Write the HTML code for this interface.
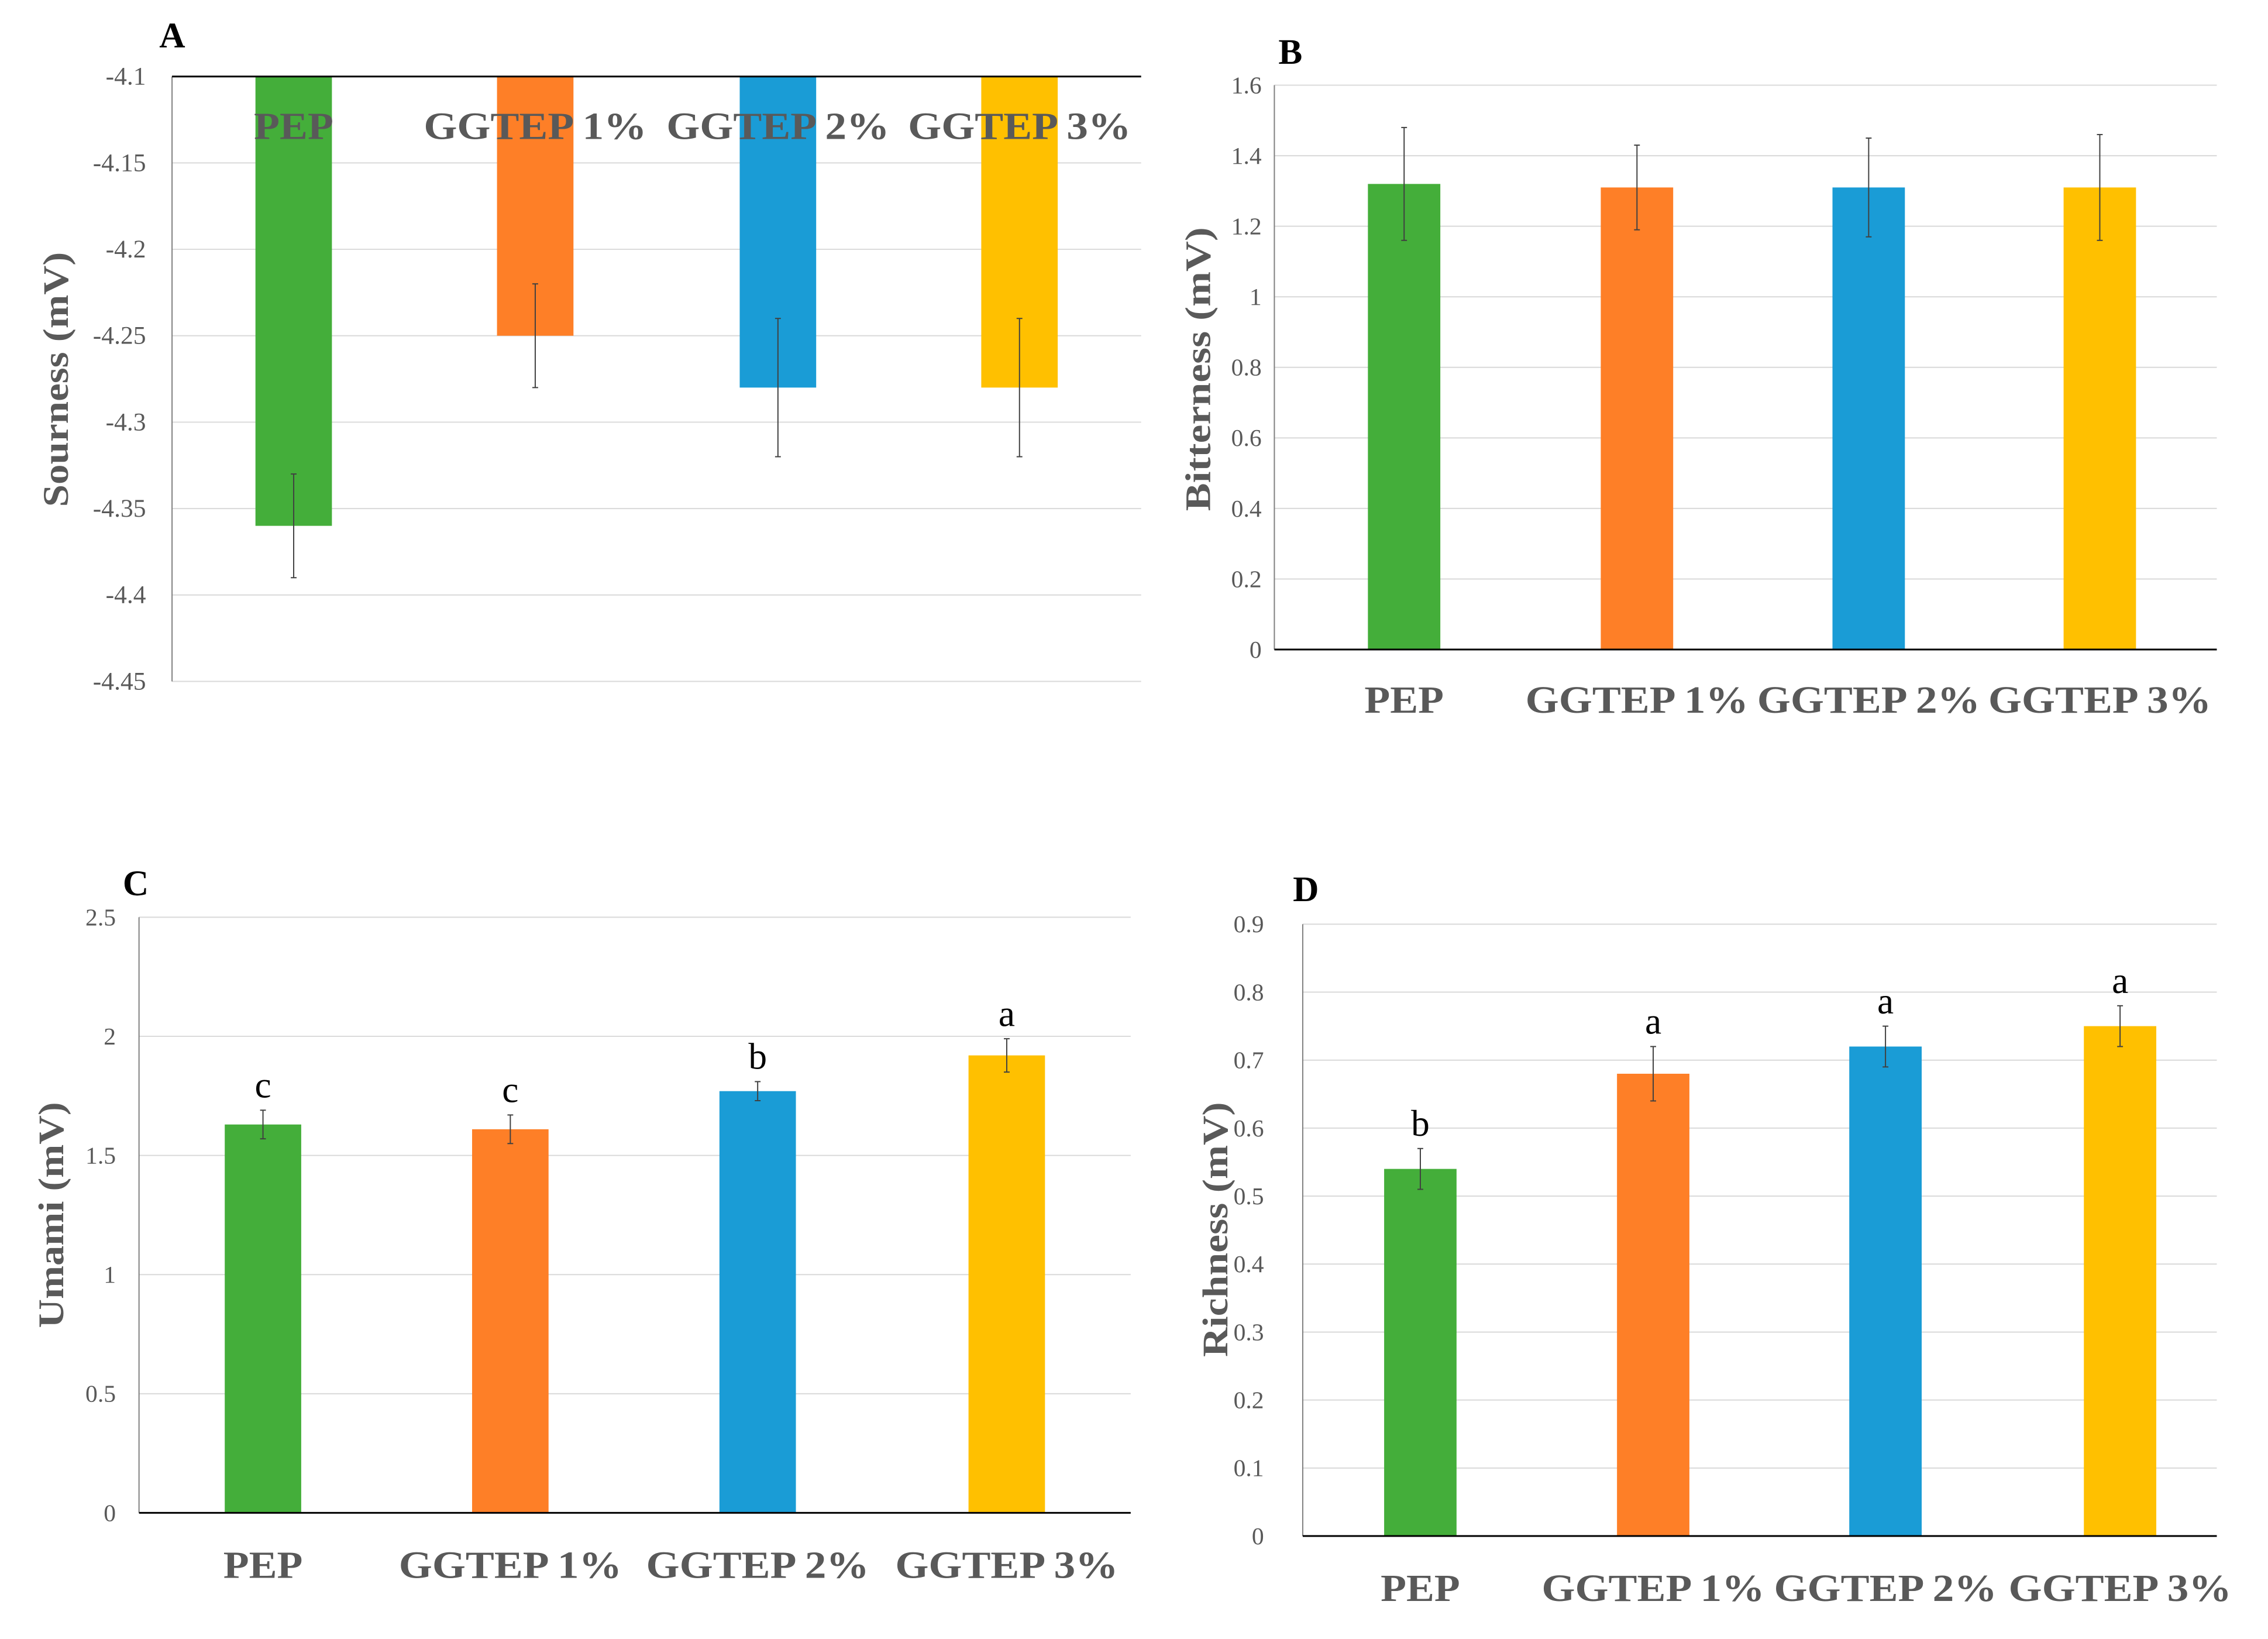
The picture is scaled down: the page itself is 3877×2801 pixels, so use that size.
<!DOCTYPE html>
<html><head><meta charset="utf-8"><style>
html,body{margin:0;padding:0;background:#fff}
svg{display:block}
</style></head><body>
<svg width="3877" height="2801" viewBox="0 0 3877 2801" xmlns="http://www.w3.org/2000/svg" font-family="'Liberation Serif', serif"><g id="fig" transform="scale(0.9902)"></g></svg>
<script>
const categories = ["PEP","GGTEP 1%","GGTEP 2%","GGTEP 3%"];
const colors = ["#44ae3a","#fe7f27","#1a9cd6","#ffc000"];
const sournessValues = [-4.36,-4.25,-4.28,-4.28];
const sournessErr = [0.03,0.03,0.04,0.04];
const sournessTicks = [-4.1,-4.15,-4.2,-4.25,-4.3,-4.35,-4.4,-4.45];
const bitternessValues = [1.32,1.31,1.31,1.31];
const bitternessErr = [0.16,0.12,0.14,0.15];
const bitternessTicks = [0,0.2,0.4,0.6,0.8,1,1.2,1.4,1.6];
const umamiValues = [1.63,1.61,1.77,1.92];
const umamiErr = [0.06,0.06,0.04,0.07];
const umamiLetters = ["c","c","b","a"];
const umamiTicks = [0,0.5,1,1.5,2,2.5];
const richnessValues = [0.54,0.68,0.72,0.75];
const richnessErr = [0.03,0.04,0.03,0.03];
const richnessLetters = ["b","a","a","a"];
const richnessTicks = [0,0.1,0.2,0.3,0.4,0.5,0.6,0.7,0.8,0.9];

const NS="http://www.w3.org/2000/svg";
const svg=document.getElementById('fig');
function mk(tag,attrs,parent,text){const e=document.createElementNS(NS,tag);for(const k in attrs)e.setAttribute(k,attrs[k]);if(text!==undefined)e.textContent=text;(parent||svg).appendChild(e);return e;}

const panels=[
 {id:'a',letter:'A',lx:275,ly:82,left:297,right:1970,top:132,bottom:1176,min:-4.45,max:-4.1,base:-4.1,
  ticks:sournessTicks,vals:sournessValues,err:sournessErr,letters:null,title:'Sourness (mV)',tx:95,ty:655,tlen:440,
  centers:[507,924,1343,1760],bw:132,gap:45,labelY:240,fs:44},
 {id:'b',letter:'B',lx:2207,ly:110,left:2200,right:3827,top:147,bottom:1121,min:0,max:1.6,base:0,
  ticks:bitternessTicks,vals:bitternessValues,err:bitternessErr,letters:null,title:'Bitterness (mV)',tx:2067,ty:637,tlen:490,
  centers:[2424,2826,3226,3625],bw:125,gap:22,labelY:1230,fs:42},
 {id:'c',letter:'C',lx:212,ly:1545,left:240,right:1952,top:1583,bottom:2611,min:0,max:2.5,base:0,
  ticks:umamiTicks,vals:umamiValues,err:umamiErr,letters:umamiLetters,title:'Umami (mV)',tx:87,ty:2097,tlen:390,
  centers:[454,881,1308,1738],bw:132,gap:40,labelY:2723,fs:42},
 {id:'d',letter:'D',lx:2232,ly:1555,left:2249,right:3827,top:1595,bottom:2651,min:0,max:0.9,base:0,
  ticks:richnessTicks,vals:richnessValues,err:richnessErr,letters:richnessLetters,title:'Richness (mV)',tx:2097,ty:2122,tlen:440,
  centers:[2452,2854,3255,3660],bw:125,gap:67,labelY:2763,fs:42}
];
const labelLen=[137,385,385,385];

panels.forEach(p=>{
  const g=mk('g',{});
  
  
  const y=v=>p.bottom-(v-p.min)/(p.max-p.min)*(p.bottom-p.top);
  const lt=mk('text',{x:p.lx,y:p.ly,'font-size':62,'font-weight':'bold',fill:'#000'},g,p.letter);
  
  
  p.ticks.forEach(t=>{
    const gl=mk('line',{x1:p.left,x2:p.right,y1:y(t),y2:y(t),stroke:'#d9d9d9','stroke-width':2},g);
    
    
    const tl=mk('text',{x:p.left-p.gap,y:y(t)+14,'font-size':p.fs,'text-anchor':'end',fill:'#595959'},g,String(t));
    
    
  });
  const ax=mk('line',{x1:p.left,x2:p.left,y1:p.top,y2:p.bottom,stroke:'#7f7f7f','stroke-width':2},g);
  
  
  p.vals.forEach((v,i)=>{
    const y0=y(p.base), y1=y(v);
    const r=mk('rect',{x:p.centers[i]-p.bw/2,y:Math.min(y0,y1),width:p.bw,height:Math.abs(y1-y0),fill:colors[i]},g);
    
    
    const e=mk('g',{stroke:'#404040','stroke-width':2},g);
    
    
    const c=p.centers[i];
    mk('line',{x1:c,x2:c,y1:y(v+p.err[i]),y2:y(v-p.err[i])},e);
    mk('line',{x1:c-5,x2:c+5,y1:y(v+p.err[i]),y2:y(v+p.err[i])},e);
    mk('line',{x1:c-5,x2:c+5,y1:y(v-p.err[i]),y2:y(v-p.err[i])},e);
    if(p.letters){
      const s=mk('text',{x:c,y:y(v+p.err[i])-22,'font-size':64,'text-anchor':'middle',fill:'#000'},g,p.letters[i]);
      
      
    }
    const xl=mk('text',{x:c,y:p.labelY,'font-size':66,'font-weight':'bold','text-anchor':'middle',fill:'#595959',textLength:labelLen[i],lengthAdjust:'spacingAndGlyphs'},g,categories[i]);
    
    
  });
  const bl=mk('line',{x1:p.left,x2:p.right,y1:y(p.base),y2:y(p.base),stroke:'#000','stroke-width':3},g);
  
  
  const tt=mk('text',{x:p.tx,y:p.ty,'font-size':62,'font-weight':'bold','text-anchor':'middle',fill:'#595959',transform:`rotate(-90 ${p.tx} ${p.ty})`,textLength:p.tlen,lengthAdjust:'spacingAndGlyphs',dy:22},g,p.title);
  
  
});
</script>
</body></html>
